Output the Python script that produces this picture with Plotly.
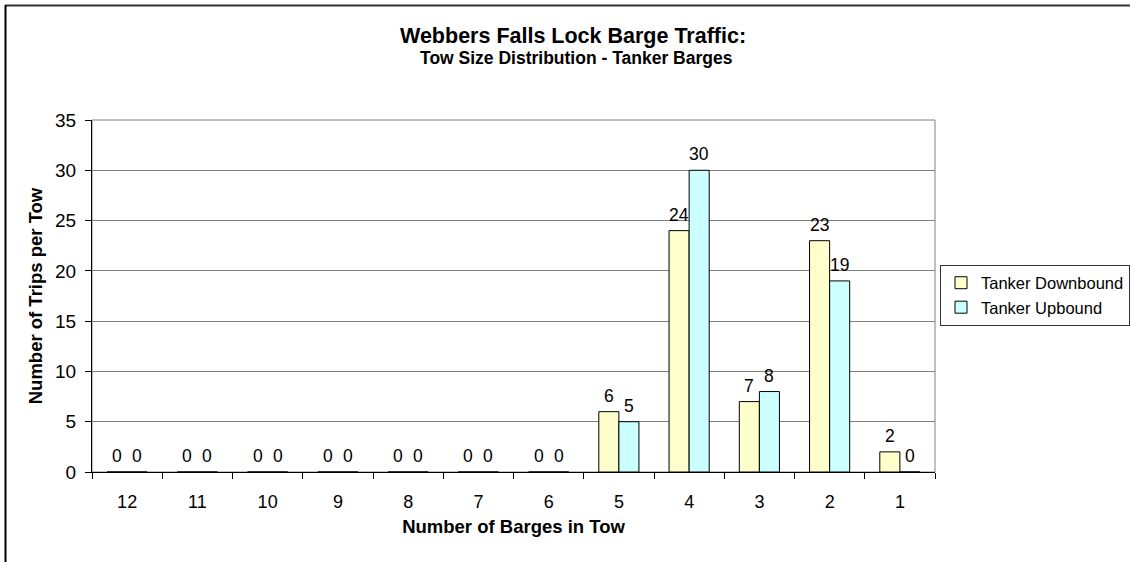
import plotly.graph_objects as go

# Tow size distribution for tanker barges at Webbers Falls Lock
barges_in_tow = ["12", "11", "10", "9", "8", "7", "6", "5", "4", "3", "2", "1"]
tanker_downbound = [0, 0, 0, 0, 0, 0, 0, 6, 24, 7, 23, 2]
tanker_upbound = [0, 0, 0, 0, 0, 0, 0, 5, 30, 8, 19, 0]

FONT = "Liberation Sans, Arial, sans-serif"
W, H = 1130, 562
M_L, M_R, M_T, M_B = 92, 195, 120, 90
plot_w = W - M_L - M_R
plot_h = H - M_T - M_B
BARGAP = 1.5 / 3.5
cat_w = plot_w / len(barges_in_tow)
bar_w = cat_w * (1 - BARGAP) / 2


def px_to_paper_x(px):
    return (px - M_L) / plot_w


def px_to_paper_y(py):
    return (H - M_B - py) / plot_h


fig = go.Figure()
fig.add_trace(go.Bar(
    name="Tanker Downbound", x=barges_in_tow, y=tanker_downbound,
    marker=dict(color="#FFFFCC", line=dict(color="#000000", width=1)),
))
fig.add_trace(go.Bar(
    name="Tanker Upbound", x=barges_in_tow, y=tanker_upbound,
    marker=dict(color="#CCFFFF", line=dict(color="#000000", width=1)),
))

# value labels above each bar (category positioned by index)
annotations = []
for series, shift in ((tanker_downbound, -bar_w / 2), (tanker_upbound, bar_w / 2)):
    for i, val in enumerate(series):
        annotations.append(dict(
            x=i, y=val, xref="x", yref="y", text=str(val), showarrow=False,
            xshift=shift, yshift=4, yanchor="bottom",
            font=dict(family=FONT, size=17.5, color="#000000"),
        ))

# chart title and subtitle
annotations += [
    dict(
        x=px_to_paper_x(573), y=px_to_paper_y(36.5), xref="paper", yref="paper",
        showarrow=False, xanchor="center", yanchor="middle",
        text="<b>Webbers Falls Lock Barge Traffic:</b>",
        font=dict(family=FONT, size=21.5, color="#000000"),
    ),
    dict(
        x=px_to_paper_x(576), y=px_to_paper_y(58), xref="paper", yref="paper",
        showarrow=False, xanchor="center", yanchor="middle",
        text="<b>Tow Size Distribution - Tanker Barges</b>",
        font=dict(family=FONT, size=17.5, color="#000000"),
    ),
]

fig.update_layout(
    width=W, height=H,
    margin=dict(l=M_L, r=M_R, t=M_T, b=M_B, autoexpand=False),
    paper_bgcolor="#FFFFFF", plot_bgcolor="#FFFFFF",
    barmode="group", bargap=BARGAP, bargroupgap=0,
    font=dict(family=FONT, size=17, color="#000000"),
    showlegend=True,
    legend=dict(
        xref="container", yref="container",
        x=940 / W, y=1 - 295 / H,
        xanchor="left", yanchor="middle",
        bordercolor="#333333", borderwidth=1, bgcolor="#FFFFFF",
        font=dict(family=FONT, size=16.5), tracegroupgap=0,
        itemwidth=30,
    ),
    xaxis=dict(
        type="category", categoryorder="array", categoryarray=barges_in_tow,
        range=[-0.5, len(barges_in_tow) - 0.5], automargin=False,
        showline=True, linecolor="#000000", linewidth=1,
        ticks="outside", tickson="boundaries", ticklen=6, tickcolor="#000000",
        tickfont=dict(family=FONT, size=18), ticklabelstandoff=13,
        title=dict(text="<b>Number of Barges in Tow</b>", font=dict(family=FONT, size=18.5), standoff=9),
        showgrid=False, zeroline=False,
    ),
    yaxis=dict(
        range=[0, 35], dtick=5, tick0=0, automargin=False,
        showline=True, linecolor="#000000", linewidth=1,
        ticks="outside", ticklen=6, tickcolor="#000000",
        tickfont=dict(family=FONT, size=19), ticklabelstandoff=5,
        showgrid=True, gridcolor="#808080", gridwidth=1,
        zeroline=False,
        title=dict(text="<b>Number of Trips per Tow</b>", font=dict(family=FONT, size=18.5), standoff=7),
    ),
    annotations=annotations,
)

fig.update_layout(shapes=[
    # plot area frame
    dict(type="rect", xref="paper", yref="paper", x0=0, y0=0, x1=1, y1=1,
         line=dict(color="#808080", width=1), layer="below"),
    # chart area border (top and left edges)
    dict(type="line", xref="paper", yref="paper",
         x0=px_to_paper_x(5), x1=px_to_paper_x(W + 10),
         y0=px_to_paper_y(5.5), y1=px_to_paper_y(5.5),
         line=dict(color="#333333", width=2)),
    dict(type="line", xref="paper", yref="paper",
         x0=px_to_paper_x(5.5), x1=px_to_paper_x(5.5),
         y0=px_to_paper_y(5), y1=px_to_paper_y(H + 10),
         line=dict(color="#000000", width=2)),
])

fig.write_html("out.html")
